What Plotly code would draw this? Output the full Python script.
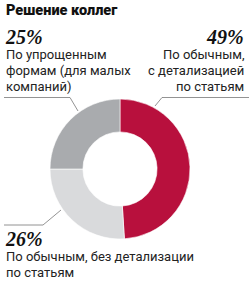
import plotly.graph_objects as go

labels = ["По обычным, с детализацией по статьям",
          "По обычным, без детализации по статьям",
          "По упрощенным формам (для малых компаний)"]
values = [49, 26, 25]
colors = ["#b8103d", "#d9dadc", "#a9abae"]
pct_text = ["49%", "26%", "25%"]
label_lines = [["По обычным,", "с детализацией", "по статьям"],
               ["По обычным, без детализации", "по статьям"],
               ["По упрощенным", "формам (для малых", "компаний)"]]

W, H = 250, 283
def px(x): return x / W
def py(y): return 1 - y / H

fig = go.Figure(go.Pie(
    labels=labels, values=values, sort=False, direction="clockwise", rotation=0,
    hole=0.53, marker=dict(colors=colors, line=dict(color="white", width=0.6)),
    textinfo="none", hoverinfo="label+percent", showlegend=False,
    domain=dict(x=[px(50), px(190)], y=[py(239), py(99)]),
))

ann = []
ann.append(dict(x=px(4), y=py(10), text="Решение коллег", xanchor="left", yanchor="middle",
                font=dict(family="Roboto", size=14.5, color="#111", weight=900)))
pf = dict(family="Liberation Serif", size=20, color="#111", weight="bold", style="italic")
lf = dict(family="Roboto", size=13, color="#222")
# 25%
ann.append(dict(x=px(3), y=py(36.5), text=pct_text[2], xanchor="left", yanchor="middle", font=pf))
for i, t in enumerate(label_lines[2]):
    ann.append(dict(x=px(4), y=py(54 + 16.3 * i), text=t, xanchor="left", yanchor="middle", font=lf))
# 49%
ann.append(dict(x=px(246), y=py(36.5), text=pct_text[0], xanchor="right", yanchor="middle", font=pf))
for i, t in enumerate(label_lines[0]):
    ann.append(dict(x=px(246), y=py(54 + 16.3 * i), text=t, xanchor="right", yanchor="middle", font=lf))
# 26%
ann.append(dict(x=px(3), y=py(238.5), text=pct_text[1], xanchor="left", yanchor="middle", font=pf))
for i, t in enumerate(label_lines[1]):
    ann.append(dict(x=px(4), y=py(256.5 + 16.3 * i), text=t, xanchor="left", yanchor="middle", font=lf))

for a in ann:
    a.update(xref="paper", yref="paper", showarrow=False)

line = dict(color="#777", width=0.8)
shapes = []
def seg(x0, y0, x1, y1):
    shapes.append(dict(type="line", xref="paper", yref="paper",
                       x0=px(x0), y0=py(y0), x1=px(x1), y1=py(y1), line=line))
seg(4, 97.5, 70, 97.5); seg(70, 97.5, 78, 111)
seg(249, 97.5, 162, 97.5); seg(162, 97.5, 155, 106)
seg(4, 225, 43, 225); seg(43, 225, 61, 210)

fig.update_layout(width=W, height=H, margin=dict(l=0, r=0, t=0, b=0),
                  paper_bgcolor="white", plot_bgcolor="white",
                  annotations=ann, shapes=shapes)
fig.write_html("out.html")
